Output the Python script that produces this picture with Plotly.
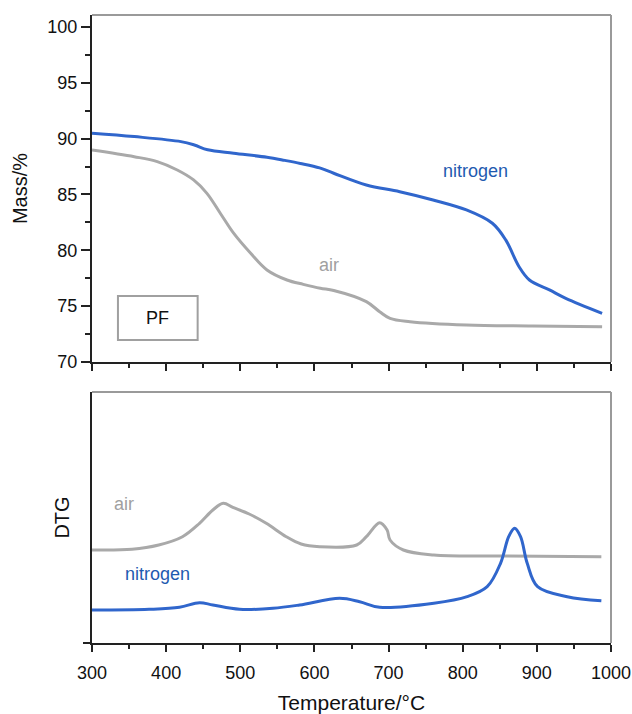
import plotly.graph_objects as go

# ---- data ----
temp_n2_mass = [300, 357, 420, 438, 456, 491, 536, 560, 581, 607, 626, 670, 715, 760, 805, 840, 858, 876, 890, 917, 939, 988]
mass_n2 = [90.48, 90.18, 89.73, 89.43, 89.0, 88.69, 88.33, 88.05, 87.78, 87.38, 86.9, 85.85, 85.25, 84.51, 83.61, 82.42, 80.93, 78.53, 77.34, 76.45, 75.70, 74.36]

temp_air_mass = [300, 357, 388, 415, 437, 455, 473, 491, 514, 536, 563, 585, 608, 626, 670, 688, 702, 729, 805, 894, 988]
mass_air = [88.98, 88.38, 87.94, 87.19, 86.30, 85.10, 83.32, 81.53, 79.73, 78.24, 77.34, 76.95, 76.6, 76.40, 75.40, 74.50, 73.91, 73.61, 73.31, 73.22, 73.16]

temp_air_dtg = [300, 354, 390, 422, 445, 463, 477, 490, 512, 535, 562, 582, 607, 657, 670, 688, 698, 702, 720, 761, 851, 987]
dtg_air = [9.3, 9.37, 9.8, 10.63, 11.97, 13.3, 13.97, 13.57, 12.9, 11.97, 10.63, 9.9, 9.63, 9.8, 10.63, 12.03, 11.3, 10.3, 9.3, 8.8, 8.7, 8.63]

temp_n2_dtg = [300, 377, 418, 445, 463, 499, 544, 580, 634, 661, 688, 761, 806, 833, 851, 862, 870, 878, 887, 901, 941, 987]
dtg_n2 = [3.3, 3.37, 3.57, 4.03, 3.8, 3.37, 3.47, 3.8, 4.47, 4.13, 3.57, 3.97, 4.63, 5.63, 7.97, 10.63, 11.47, 10.63, 7.97, 5.63, 4.63, 4.23]

x_ticks = [300, 400, 500, 600, 700, 800, 900, 1000]
mass_ticks = [70, 75, 80, 85, 90, 95, 100]

BLUE = "#3066cc"
BLUE_TXT = "#1f5ab0"
GRAY = "#a9a9a9"
GRAY_TXT = "#a0a0a0"
FONT = "Liberation Sans, Arial, sans-serif"

fig = go.Figure()
fig.add_trace(go.Scatter(x=temp_n2_mass, y=mass_n2, mode="lines", line=dict(color=BLUE, width=3, shape="spline"), xaxis="x", yaxis="y", showlegend=False))
fig.add_trace(go.Scatter(x=temp_air_mass, y=mass_air, mode="lines", line=dict(color=GRAY, width=3, shape="spline"), xaxis="x", yaxis="y", showlegend=False))
fig.add_trace(go.Scatter(x=temp_air_dtg, y=dtg_air, mode="lines", line=dict(color=GRAY, width=3, shape="spline"), xaxis="x2", yaxis="y2", showlegend=False))
fig.add_trace(go.Scatter(x=temp_n2_dtg, y=dtg_n2, mode="lines", line=dict(color=BLUE, width=3, shape="spline"), xaxis="x2", yaxis="y2", showlegend=False))

axcommon = dict(showgrid=False, zeroline=False, showline=True, linecolor="#222", linewidth=2, automargin=False,
                tickcolor="#222", tickwidth=1.5, tickfont=dict(size=18, color="#111", family=FONT))

fig.update_layout(
    template="none",
    width=632, height=714,
    margin=dict(l=92, r=21, t=15, b=71, autoexpand=False),
    paper_bgcolor="white", plot_bgcolor="white",
    font=dict(family=FONT, color="#111"),
    xaxis=dict(**axcommon, domain=[0, 1], anchor="y", range=[300, 1000], tickvals=x_ticks,
               showticklabels=False, ticks="outside", ticklen=7,
               minor=dict(dtick=50, tick0=300, ticks="outside", ticklen=4, tickcolor="#222")),
    yaxis=dict(**axcommon, domain=[0.4475, 1.0], anchor="x", range=[70, 101.07], tickvals=mass_ticks,
               ticks="outside", ticklen=9,
               minor=dict(dtick=2.5, tick0=70, ticks="outside", ticklen=5, tickcolor="#222"),
               title=dict(text="Mass/%", font=dict(size=20, family=FONT), standoff=14)),
    xaxis2=dict(**axcommon, domain=[0, 1], anchor="y2", range=[300, 1000], tickvals=x_ticks,
                ticks="outside", ticklen=7, ticklabelstandoff=5,
                minor=dict(dtick=50, tick0=300, ticks="outside", ticklen=4, tickcolor="#222"),
                title=dict(text="Temperature/°C", font=dict(size=21, family=FONT), standoff=18)),
    yaxis2=dict(**axcommon, domain=[0, 0.3997], anchor="x2", range=[0, 25.1], tickvals=[0],
                showticklabels=False, ticks="outside", ticklen=7,
                title=dict(text="DTG", font=dict(size=20, family=FONT), standoff=8)),
    # overlay axes to give the x ticks a crossing look
    xaxis3=dict(overlaying="x", anchor="y", range=[300, 1000], tickvals=x_ticks, showticklabels=False,
                showgrid=False, zeroline=False, showline=False, ticks="inside", ticklen=7,
                tickcolor="#222", tickwidth=1.5, automargin=False,
                minor=dict(dtick=50, tick0=300, ticks="inside", ticklen=4, tickcolor="#222")),
    xaxis4=dict(overlaying="x2", anchor="y2", range=[300, 1000], tickvals=x_ticks, showticklabels=False,
                showgrid=False, zeroline=False, showline=False, ticks="inside", ticklen=7,
                tickcolor="#222", tickwidth=1.5, automargin=False,
                minor=dict(dtick=50, tick0=300, ticks="inside", ticklen=4, tickcolor="#222")),
)

# gray top/right frame lines
for xr, yr in (("x domain", "y domain"), ("x2 domain", "y2 domain")):
    fig.add_shape(type="line", xref=xr, yref=yr, x0=0, x1=1, y0=1, y1=1, line=dict(color="#9a9a9a", width=2))
    fig.add_shape(type="line", xref=xr, yref=yr, x0=1, x1=1, y0=0, y1=1, line=dict(color="#9a9a9a", width=2))

# PF box
fig.add_shape(type="rect", xref="x", yref="y", x0=335, x1=442.5, y0=71.97, y1=75.9,
              line=dict(color="#a0a0a0", width=2), fillcolor="white")

ann = [
    dict(x=388, y=73.9, xref="x", yref="y", text="PF", font=dict(size=18, color="#111", family=FONT)),
    dict(x=817, y=87.1, xref="x", yref="y", text="nitrogen", font=dict(size=18, color=BLUE_TXT, family=FONT)),
    dict(x=620, y=78.7, xref="x", yref="y", text="air", font=dict(size=18, color=GRAY_TXT, family=FONT)),
    dict(x=343, y=13.9, xref="x2", yref="y2", text="air", font=dict(size=18, color=GRAY_TXT, family=FONT)),
    dict(x=388, y=6.9, xref="x2", yref="y2", text="nitrogen", font=dict(size=18, color=BLUE_TXT, family=FONT)),
]
for a in ann:
    fig.add_annotation(showarrow=False, **a)

fig.write_html("out.html")
